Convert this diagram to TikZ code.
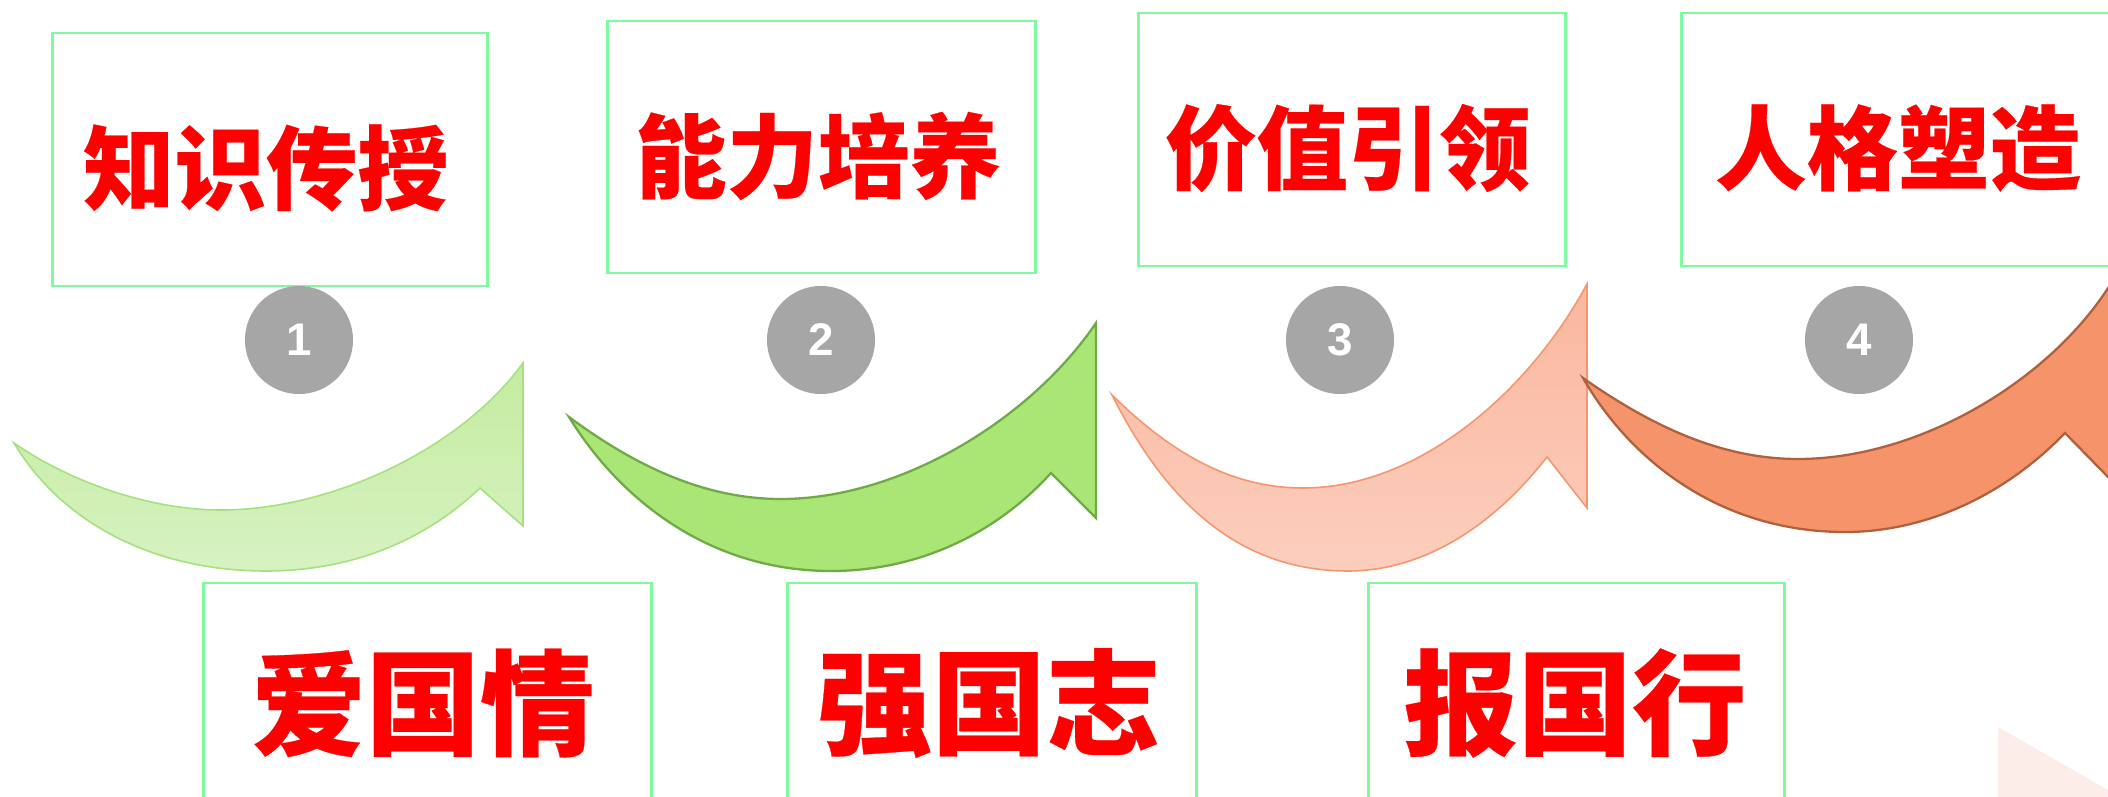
\documentclass[tikz,border=0pt]{standalone}
\usepackage{fontspec}
\newfontfamily\cjk{Noto Sans CJK SC}[BoldFeatures={FakeBold=0.25}]
\newfontfamily\numfont{Liberation Sans}
\definecolor{boxgreen}{RGB}{128,250,158}
\definecolor{txtred}{RGB}{255,0,0}
\definecolor{numgray}{RGB}{166,166,166}
\definecolor{aonetop}{RGB}{197,236,160}
\definecolor{aonebot}{RGB}{214,242,194}
\definecolor{aonedraw}{RGB}{165,225,125}
\definecolor{atwofill}{RGB}{170,230,118}
\definecolor{atwodraw}{RGB}{112,170,70}
\definecolor{athreetop}{RGB}{250,183,158}
\definecolor{athreebot}{RGB}{252,206,190}
\definecolor{athreedraw}{RGB}{245,150,110}
\definecolor{afourfill}{RGB}{245,148,106}
\definecolor{afourdraw}{RGB}{176,96,60}
\definecolor{cornerpink}{RGB}{253,237,233}
\tikzset{
  framebox/.style={draw=boxgreen, line width=0.8pt, fill=white, inner sep=0pt},
  toptext/.style={inner sep=0pt, text=txtred, font=\cjk\bfseries\fontsize{26}{28}\selectfont},
  bottext/.style={inner sep=0pt, text=txtred, font=\cjk\bfseries\fontsize{32.5}{35}\selectfont},
  numdot/.style={circle, fill=numgray, minimum size=1.08cm, inner sep=0pt,
    text=white, font=\numfont\bfseries\fontsize{13}{14}\selectfont},
  arrowone/.style={top color=aonetop, bottom color=aonebot, draw=aonedraw, line width=0.45pt},
  arrowtwo/.style={fill=atwofill, draw=atwodraw, line width=0.65pt},
  arrowthree/.style={top color=athreetop, bottom color=athreebot, draw=athreedraw, line width=0.45pt},
  arrowfour/.style={fill=afourfill, draw=afourdraw, line width=0.65pt},
}
\begin{document}
\begin{tikzpicture}[x=0.01cm, y=-0.01cm]
\useasboundingbox (0,0) rectangle (2108,797);
\clip (0,0) rectangle (2108,797);
\fill[white] (0,0) rectangle (2108,797);

% corner decoration
\fill[cornerpink] (1998,727) -- (2108,790) -- (2108,797) -- (1998,797) -- cycle;

% curved arrows
\draw[arrowone] (14,443) .. controls (70,482) and (150,510) .. (221,510)
  .. controls (330,510) and (460,450) .. (523,363) -- (523,526) -- (480,488)
  .. controls (420,545) and (345,571) .. (266,571)
  .. controls (150,571) and (60,520) .. cycle;
\draw[arrowtwo] (569,417) .. controls (630,462) and (700,499) .. (781,499)
  .. controls (900,499) and (1030,420) .. (1096,323) -- (1096,518) -- (1051,473)
  .. controls (990,540) and (910,571) .. (831,571)
  .. controls (710,571) and (620,500) .. cycle;
\draw[arrowthree] (1112,395) .. controls (1170,452) and (1230,488) .. (1303,488)
  .. controls (1420,488) and (1530,390) .. (1587,284) -- (1587,508) -- (1547,457)
  .. controls (1490,530) and (1420,571) .. (1348,571)
  .. controls (1230,571) and (1160,490) .. cycle;
\draw[arrowfour] (1583,378) .. controls (1650,425) and (1720,459) .. (1798,459)
  .. controls (1920,459) and (2050,380) .. (2110,285) -- (2110,479) -- (2065,433)
  .. controls (2000,500) and (1920,532) .. (1845,532)
  .. controls (1720,532) and (1630,460) .. cycle;

% top boxes
\node[framebox, minimum width=4.34cm, minimum height=2.53cm] (t1) at (270,159.5) {};
\node[framebox, minimum width=4.27cm, minimum height=2.52cm] (t2) at (821.5,147) {};
\node[framebox, minimum width=4.26cm, minimum height=2.53cm] (t3) at (1352,139.5) {};
\node[framebox, minimum width=4.32cm, minimum height=2.53cm] (t4) at (1898,139.5) {};
\node[toptext] (l1) at (266,168) {知识传授};
\node[toptext] (l2) at (818,156) {能力培养};
\node[toptext] (l3) at (1348,148) {价值引领};
\node[toptext] (l4) at (1898,148) {人格塑造};

% number circles
\node[numdot] (n1) at (299,340) {1};
\node[numdot] (n2) at (821,340) {2};
\node[numdot] (n3) at (1340,340) {3};
\node[numdot] (n4) at (1859,340) {4};

% bottom boxes
\node[framebox, minimum width=4.47cm, minimum height=2.4cm] (b1) at (427.5,703) {};
\node[framebox, minimum width=4.08cm, minimum height=2.4cm] (b2) at (992,703) {};
\node[framebox, minimum width=4.15cm, minimum height=2.4cm] (b3) at (1576.5,703) {};
\node[bottext] (m1) at (423,703) {爱国情};
\node[bottext] (m2) at (989,703) {强国志};
\node[bottext] (m3) at (1575,703) {报国行};
\end{tikzpicture}
\end{document}
